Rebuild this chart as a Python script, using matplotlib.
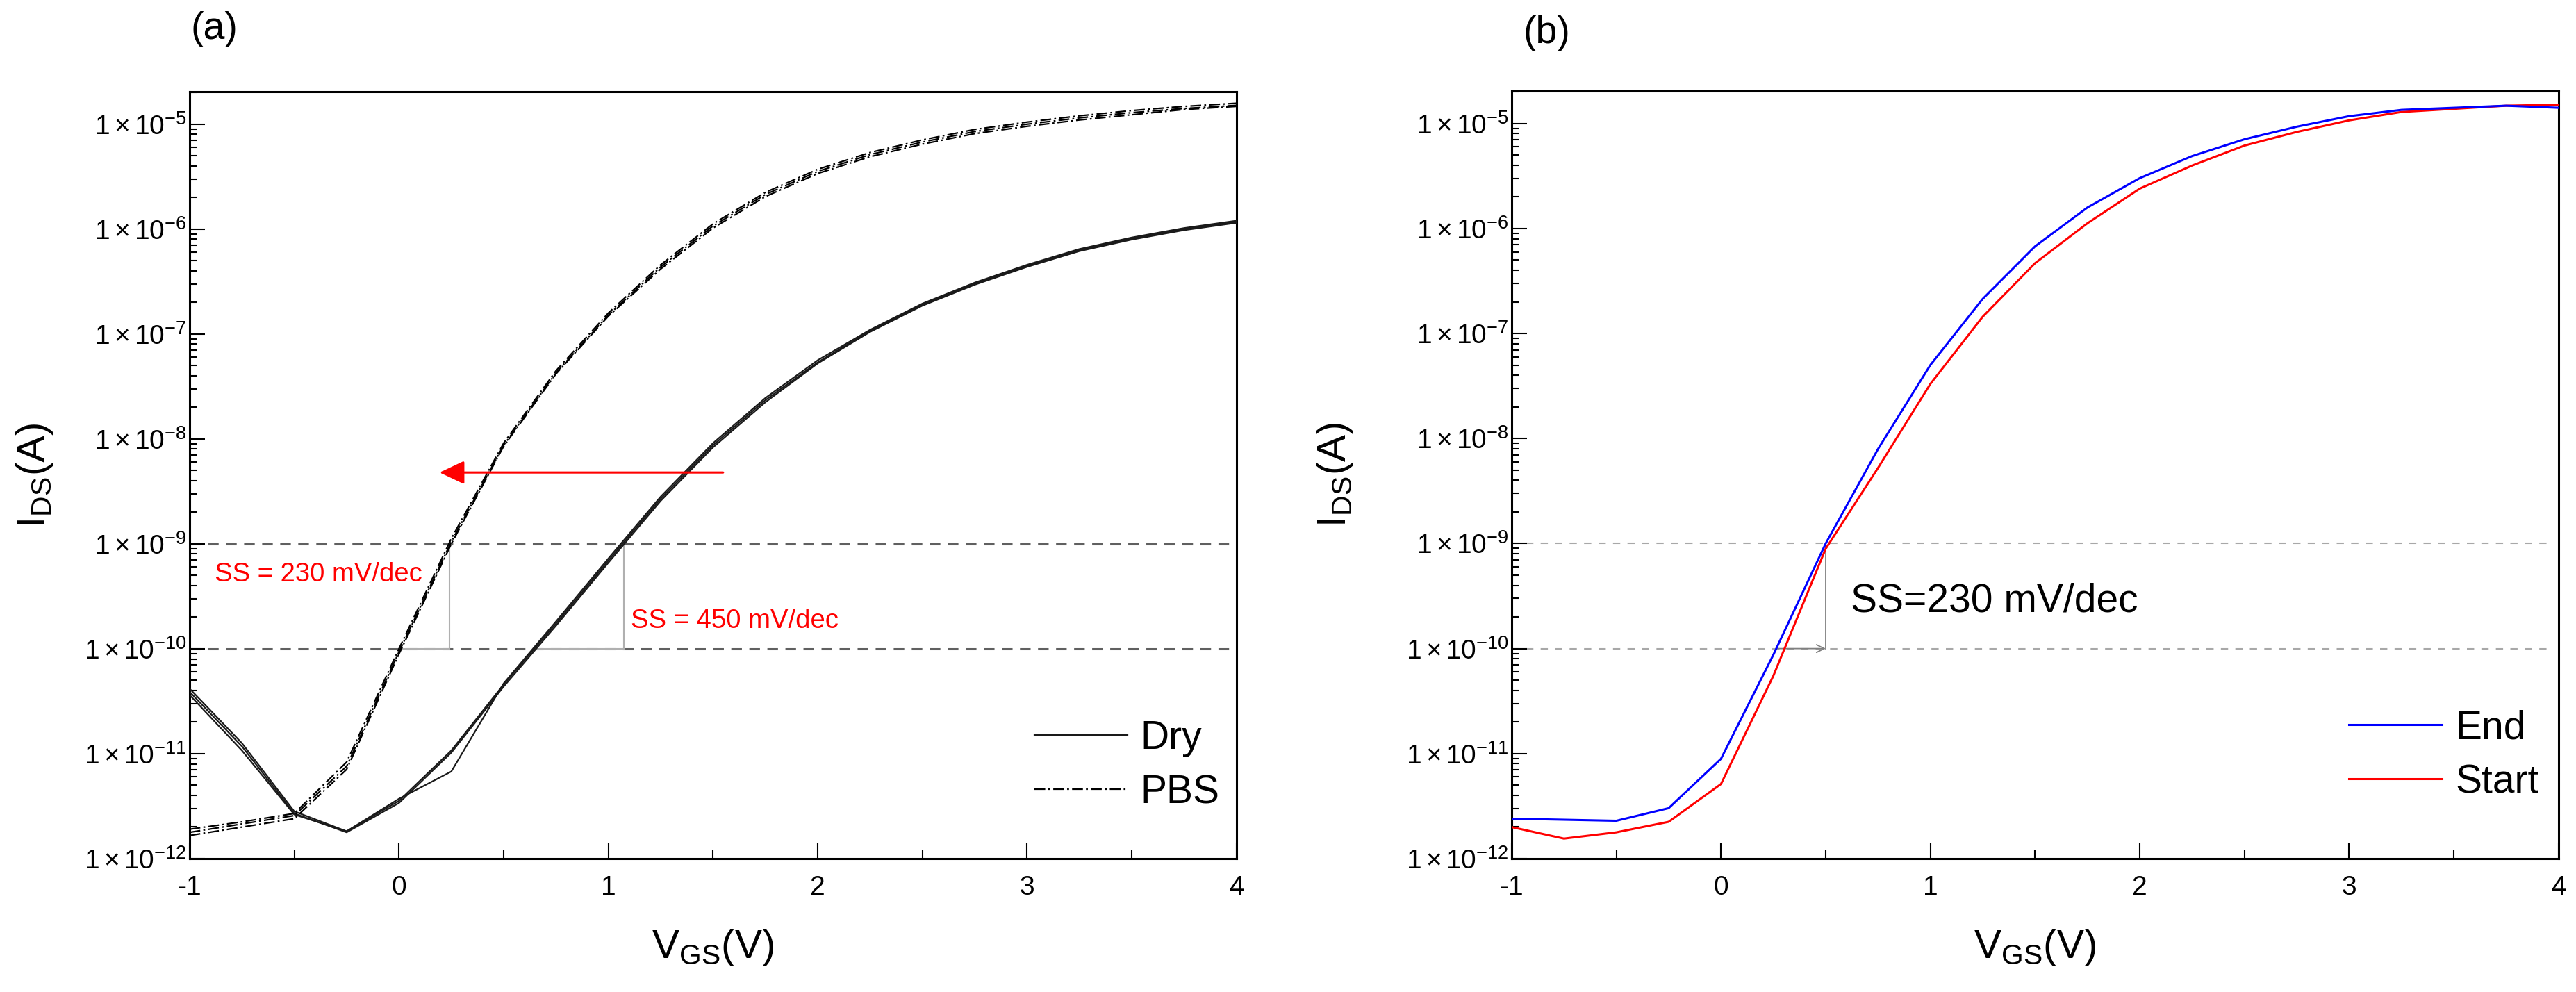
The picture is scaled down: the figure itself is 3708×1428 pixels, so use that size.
import numpy as np
import matplotlib.pyplot as plt
from matplotlib.ticker import FixedLocator, LogLocator, NullFormatter, FuncFormatter, MultipleLocator

plt.rcParams['font.family'] = ['Liberation Sans', 'DejaVu Sans']
plt.rcParams['mathtext.fontset'] = 'custom'
plt.rcParams['mathtext.rm'] = 'Liberation Sans'
plt.rcParams['mathtext.it'] = 'Liberation Sans:italic'
plt.rcParams['mathtext.bf'] = 'Liberation Sans:bold'

# gate voltage sweep (V)
vgs = [-1.0, -0.75, -0.5, -0.25, 0.0, 0.25, 0.5, 0.75, 1.0, 1.25, 1.5,
       1.75, 2.0, 2.25, 2.5, 2.75, 3.0, 3.25, 3.5, 3.75, 4.0]

# panel (a): log10(I_DS / A), three sweeps per condition
dry_1 = [-10.38, -10.90, -11.55, -11.74, -11.45, -10.97, -10.34, -9.76, -9.16, -8.57, -8.06,
         -7.63, -7.27, -6.97, -6.72, -6.52, -6.35, -6.20, -6.09, -6.00, -5.93]
dry_2 = [-10.41, -10.93, -11.57, -11.75, -11.47, -10.99, -10.36, -9.78, -9.18, -8.59, -8.08,
         -7.65, -7.28, -6.98, -6.73, -6.53, -6.36, -6.21, -6.10, -6.01, -5.94]
dry_3 = [-10.44, -10.97, -11.58, -11.74, -11.43, -11.17, -10.33, -9.74, -9.14, -8.55, -8.04,
         -7.61, -7.25, -6.96, -6.71, -6.51, -6.34, -6.19, -6.08, -5.99, -5.92]
pbs_1 = [-11.72, -11.65, -11.57, -11.08, -10.00, -8.95, -8.04, -7.35, -6.80, -6.34, -5.95,
         -5.65, -5.43, -5.27, -5.15, -5.05, -4.98, -4.92, -4.87, -4.83, -4.80]
pbs_2 = [-11.75, -11.67, -11.59, -11.12, -10.03, -8.98, -8.06, -7.37, -6.82, -6.36, -5.97,
         -5.67, -5.45, -5.29, -5.17, -5.07, -5.00, -4.94, -4.89, -4.85, -4.82]
pbs_3 = [-11.78, -11.70, -11.62, -11.15, -10.05, -9.00, -8.07, -7.38, -6.83, -6.38, -5.99,
         -5.69, -5.47, -5.31, -5.19, -5.09, -5.02, -4.96, -4.91, -4.86, -4.83]

# panel (b): log10(I_DS / A)
end_log = [-11.62, -11.63, -11.64, -11.52, -11.05, -10.06, -9.00, -8.10, -7.30, -6.67, -6.17,
           -5.80, -5.52, -5.31, -5.15, -5.03, -4.93, -4.87, -4.85, -4.83, -4.85]
start_log = [-11.70, -11.81, -11.75, -11.65, -11.29, -10.26, -9.05, -8.28, -7.48, -6.84, -6.33,
             -5.95, -5.62, -5.40, -5.21, -5.08, -4.97, -4.89, -4.86, -4.83, -4.82]

x_ticks = [-1, 0, 1, 2, 3, 4]
x_tick_labels = ['-1', '0', '1', '2', '3', '4']
y_decades = [1e-12, 1e-11, 1e-10, 1e-9, 1e-8, 1e-7, 1e-6, 1e-5]

# subthreshold swing markers: (V at 1e-10, V at 1e-9)
ss_pbs = (0.005, 0.241)
ss_dry = (0.644, 1.074)
ss_end = (0.272, 0.500)


def amps(log_values):
    return 10.0 ** np.array(log_values)


def style_axes(ax):
    ax.set_yscale('log')
    ax.set_xlim(-1, 4)
    ax.set_ylim(1e-12, 10 ** -4.69)
    ax.set_xticks(x_ticks, labels=x_tick_labels)
    ax.xaxis.set_minor_locator(MultipleLocator(0.5))
    ax.yaxis.set_major_locator(FixedLocator(y_decades))
    ax.yaxis.set_major_formatter(
        FuncFormatter(lambda y, p: r'$1\times10^{%d}$' % round(np.log10(y))))
    ax.yaxis.set_minor_locator(LogLocator(base=10, subs=np.arange(2, 10), numticks=30))
    ax.yaxis.set_minor_formatter(NullFormatter())
    ax.tick_params(which='both', direction='in', top=False, right=False,
                   width=1.5, color='black')
    ax.tick_params(axis='x', which='major', length=16, labelsize=28, pad=17)
    ax.tick_params(axis='x', which='minor', length=8.5)
    ax.tick_params(axis='y', which='major', length=16, labelsize=28, pad=3)
    ax.tick_params(axis='y', which='minor', length=7)
    for s in ax.spines.values():
        s.set_linewidth(2.2)
    ax.set_xlabel(r'$\mathregular{V_{GS}(V)}$', fontsize=42)
    ax.set_ylabel(r'$\mathregular{I_{DS}(A)}$', fontsize=42)
    ax.xaxis.set_label_coords(0.5, -0.09)


fig = plt.figure(figsize=(37.08, 14.28), dpi=100)
ax_a = fig.add_axes([0.0736, 0.1345, 0.4064, 0.7731])
ax_b = fig.add_axes([0.5868, 0.1345, 0.4064, 0.7738])

# ---- panel (a)
style_axes(ax_a)
ax_a.yaxis.set_label_coords(-0.129, 0.5)

for level in (1e-9, 1e-10):
    ax_a.axhline(level, color='#606060', lw=2.2, linestyle=(0, (5, 3.5)), zorder=1)

for lo, hi in (ss_pbs, ss_dry):
    ax_a.plot([hi, hi], [1e-10, 1e-9], color='#b0b0b0', lw=1.5, zorder=2)
    ax_a.plot([lo, hi], [1e-10, 1e-10], color='#b0b0b0', lw=1.5, zorder=2)

dash_dot = (0, (7, 2, 1.2, 2))
dry_lines = []
for d in (dry_1, dry_2, dry_3):
    dry_lines += ax_a.plot(vgs, amps(d), color='#1a1a1a', lw=1.6, zorder=3)
pbs_lines = []
for p in (pbs_1, pbs_2, pbs_3):
    pbs_lines += ax_a.plot(vgs, amps(p), color='black', lw=1.6, linestyle=dash_dot, zorder=3)

ax_a.annotate('', xy=(0.194, 10 ** -8.32), xytext=(1.548, 10 ** -8.32),
              arrowprops=dict(arrowstyle='-|>,head_length=1.1,head_width=0.52',
                              color='#ff0000', lw=2.2, shrinkA=0, shrinkB=0,
                              mutation_scale=20), zorder=4)
ax_a.text(-0.88, 10 ** -9.36, 'SS = 230 mV/dec', color='#ff0000', fontsize=27.5, va='baseline')
ax_a.text(1.107, 10 ** -9.80, 'SS = 450 mV/dec', color='#ff0000', fontsize=27.5, va='baseline')

ax_a.legend([dry_lines[0], pbs_lines[0]], ['Dry', 'PBS'], loc='center left',
            bbox_to_anchor=(0.807, 0.121), frameon=False, fontsize=41,
            handlelength=2.35, handletextpad=0.33, labelspacing=0.42,
            borderpad=0, borderaxespad=0)

# ---- panel (b)
style_axes(ax_b)
ax_b.yaxis.set_label_coords(-0.149, 0.5)

for level in (1e-9, 1e-10):
    ax_b.axhline(level, xmax=0.994, color='#a8a8a8', lw=1.5, linestyle=(0, (5, 5)), zorder=1)

ax_b.plot([ss_end[1], ss_end[1]], [1e-10, 1e-9], color='#808080', lw=1.3, zorder=2)
ax_b.annotate('', xy=(ss_end[1], 1e-10), xytext=(ss_end[0], 1e-10),
              arrowprops=dict(arrowstyle='->,head_length=0.4,head_width=0.2',
                              color='#808080', lw=1.3, shrinkA=0, shrinkB=0,
                              mutation_scale=20), zorder=2)

line_start, = ax_b.plot(vgs, amps(start_log), color='#ff0000', lw=2.2, zorder=3)
line_end, = ax_b.plot(vgs, amps(end_log), color='#0000ff', lw=2.2, zorder=3)
ax_b.text(0.619, 10 ** -9.65, 'SS=230 mV/dec', color='black', fontsize=41, va='baseline')

ax_b.legend([line_end, line_start], ['End', 'Start'], loc='center left',
            bbox_to_anchor=(0.800, 0.1345), frameon=False, fontsize=41,
            handlelength=2.35, handletextpad=0.33, labelspacing=0.42,
            borderpad=0, borderaxespad=0)

fig.text(0.0739, 0.9608, '(a)', fontsize=40, va='baseline')
fig.text(0.5914, 0.9563, '(b)', fontsize=40, va='baseline')

fig.savefig('out.png', dpi=100)
